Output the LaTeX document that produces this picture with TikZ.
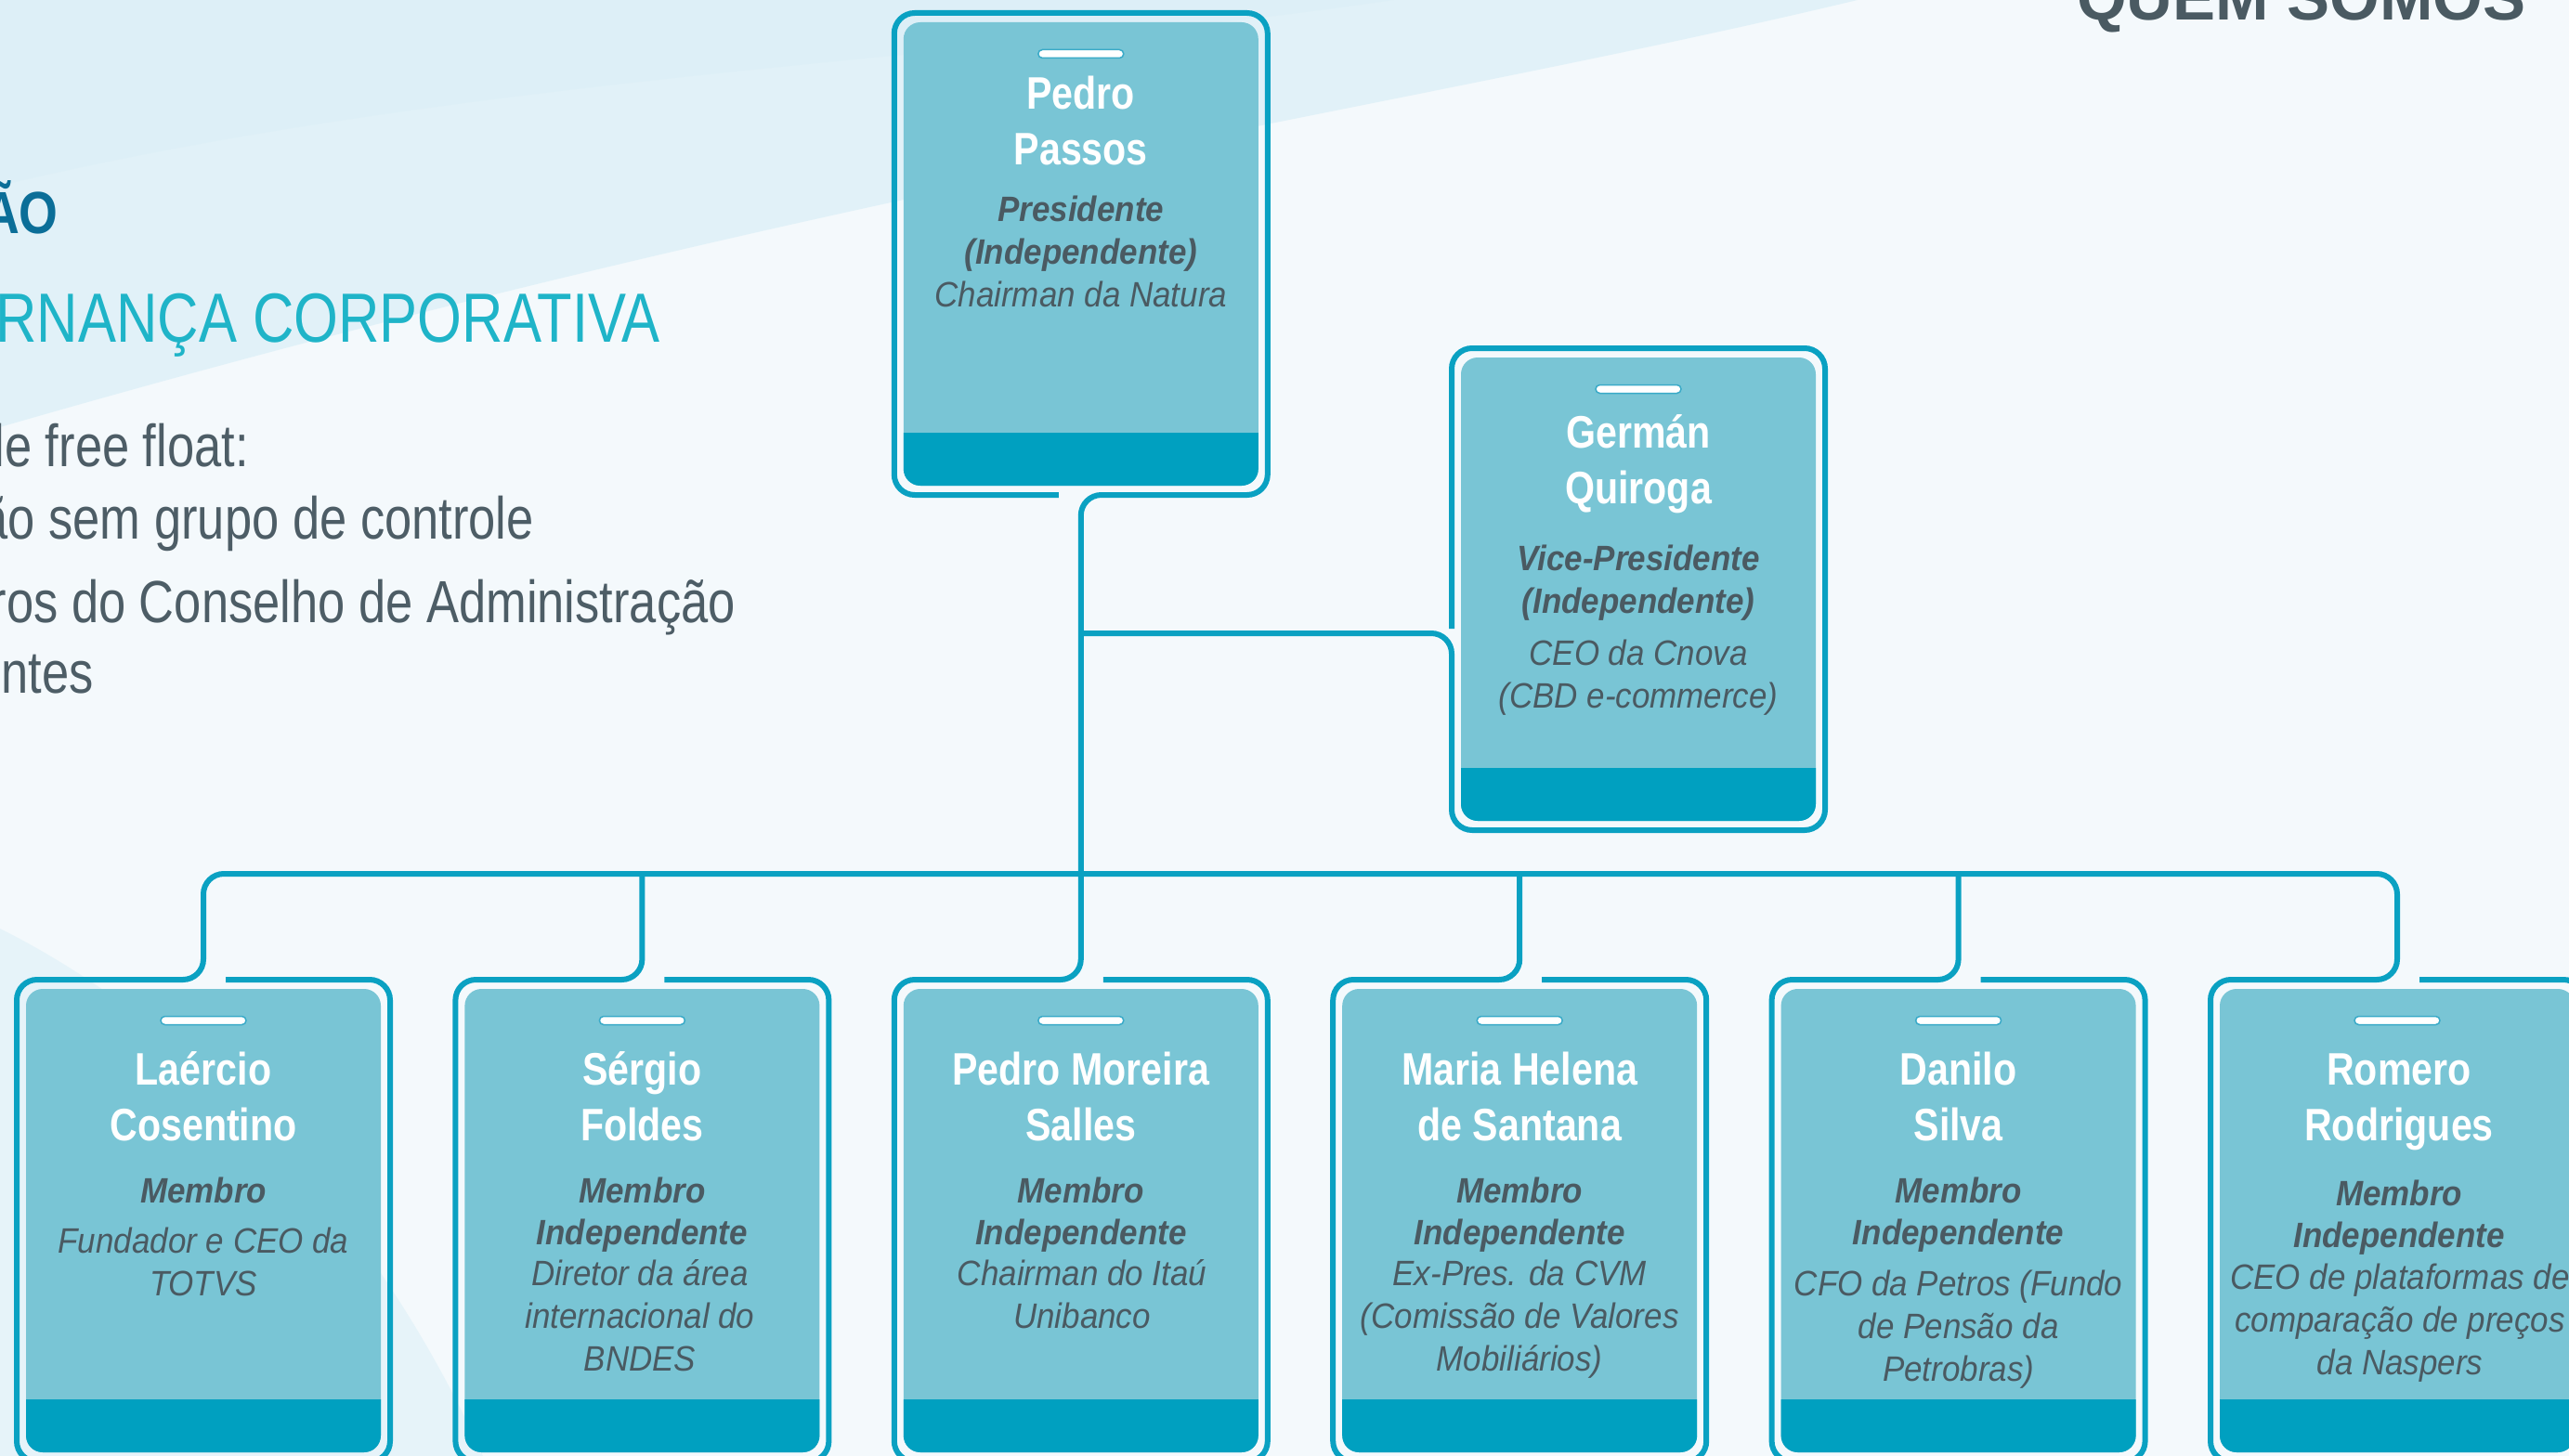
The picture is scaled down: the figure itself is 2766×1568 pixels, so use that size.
\documentclass[tikz,border=0pt]{standalone}
\usepackage{fontspec}
\setmainfont{Liberation Sans}
\newfontfamily\narrowfont[FakeStretch=0.82]{Liberation Sans}
\newfontfamily\condfont[FakeStretch=0.84]{Liberation Sans}
\newfontfamily\semifont[FakeStretch=0.92]{Liberation Sans}
\usetikzlibrary{calc}
\definecolor{cardline}{HTML}{0AA1C2}
\definecolor{cardfill}{HTML}{79C5D5}
\definecolor{cardband}{HTML}{00A0C0}
\definecolor{txtgray}{HTML}{4A5A62}
\definecolor{bodygray}{HTML}{4D5D66}
\definecolor{titleblue}{HTML}{0B6E98}
\definecolor{subteal}{HTML}{1FB4C8}
\definecolor{bgbase}{HTML}{F4F9FC}
\definecolor{bglight}{HTML}{DAEFF7}
\definecolor{barline}{HTML}{3AAAC8}

\newcommand\cardbody[1]{%
  \begin{scope}
    \clip[rounded corners=18pt] ($(#1.north west)+(10pt,-10pt)$) rectangle ($(#1.south east)+(-10pt,10pt)$);
    \fill[cardfill] (#1.north west) rectangle (#1.south east);
    \fill[cardband] ($(#1.north west)+(0pt,-452pt)$) rectangle (#1.south east);
  \end{scope}
  \draw[barline, line width=1.5pt, fill=white, rounded corners=4.5pt]
    ($(#1.north)+(-46pt,-39.5pt)$) rectangle ($(#1.north)+(46pt,-48.5pt)$);
}
\newcommand\tl[5]{\node[#1] (#2) at (#3,#4) {#5};}

\begin{document}
\begin{tikzpicture}[x=1pt,y=-1pt,
  cardbox/.style={minimum width=402pt,minimum height=519pt,inner sep=0pt,outer sep=0pt,draw=none},
  border/.style={draw=cardline,line width=6pt,rounded corners=22pt},
  nm/.style={font=\condfont\fontsize{49}{49}\selectfont\bfseries,text=white,anchor=base,inner sep=0pt},
  rl/.style={font=\semifont\fontsize{38}{38}\selectfont\bfseries\itshape,text=txtgray,anchor=base,inner sep=0pt},
  ds/.style={font=\semifont\fontsize{38}{38}\selectfont\itshape,text=txtgray,anchor=base,inner sep=0pt},
  body/.style={font=\narrowfont\fontsize{64}{64}\selectfont,text=bodygray,anchor=base east,inner sep=0pt},
]
\useasboundingbox (0,0) rectangle (2766,1568);
\clip (0,0) rectangle (2766,1568);

% background
\fill[bgbase] (0,0) rectangle (2766,1568);
\fill[bglight, opacity=0.7] (0,0) -- (2000,0) .. controls (1500,120) and (900,200) .. (0,460) -- cycle;
\fill[bglight, opacity=0.5] (0,0) -- (1500,0) .. controls (1100,60) and (500,80) .. (0,200) -- cycle;
\fill[bglight, opacity=0.5] (0,1000) .. controls (200,1100) and (400,1300) .. (520,1568) -- (0,1568) -- cycle;

% left text
\node[font=\condfont\fontsize{64}{64}\selectfont\bfseries,text=titleblue,anchor=base east,inner sep=0pt] (ttl) at (63,251) {ÃO};
\node[font=\narrowfont\fontsize{75}{75}\selectfont,text=subteal,anchor=base east,inner sep=0pt] (sub) at (711,368) {RNANÇA CORPORATIVA};
\node[body] (b1) at (268,502) {le free float:};
\node[body] (b2) at (575,580) {ão sem grupo de controle};
\node[body] (b3) at (792,670) {ros do Conselho de Administração};
\node[body] (b4) at (101,746) {ntes};
\node[font=\fontsize{69}{69}\selectfont\bfseries,text=txtgray,anchor=base west,inner sep=0pt] (qs) at (2236,22) {QUEM SOMOS};

% cards
\node[cardbox] (p) at (1163.8,273.5) {};
\node[cardbox] (g) at (1764,634.5) {};
\node[cardbox] (c1) at (219,1314.5) {};
\node[cardbox] (c2) at (691.4,1314.5) {};
\node[cardbox] (c3) at (1163.8,1314.5) {};
\node[cardbox] (c4) at (1636.2,1314.5) {};
\node[cardbox] (c5) at (2108.6,1314.5) {};
\node[cardbox] (c6) at (2581,1314.5) {};
\coordinate (bus) at (0,941);
\coordinate (gj) at ($(g.north west)+(0pt,-307pt)$);

\foreach \c in {p,g,c1,c2,c3,c4,c5,c6} {\cardbody{\c}}

% borders and connectors
\draw[border] ([xshift=-24pt]p.south) -- (p.south west) -- (p.north west) -- (p.north east) -- (p.south east) -- (p.south) -- (c3.north) -- (c3.north west) -- (c3.south west) -- (c3.south east) -- (c3.north east) -- ([xshift=24pt]c3.north);
\draw[border] (p.south |- gj) -- (gj) -- (g.south west) -- (g.south east) -- (g.north east) -- (g.north west) -- ([yshift=5pt]gj);
\draw[border] ([xshift=24pt]c1.north) -- (c1.north east) -- (c1.south east) -- (c1.south west) -- (c1.north west) -- (c1.north) -- (c1.north |- bus) -- (c6.north |- bus) -- (c6.north) -- (c6.north west) -- (c6.south west) -- (c6.south east) -- (c6.north east) -- ([xshift=24pt]c6.north);
\foreach \c in {c2,c4,c5} {
  \draw[border] ([xshift=24pt]\c.north) -- (\c.north east) -- (\c.south east) -- (\c.south west) -- (\c.north west) -- (\c.north) -- (\c.north |- bus);
}

% texts: top card
\tl{nm}{pn1}{1163.8}{118}{Pedro}
\tl{nm}{pn2}{1163.8}{178}{Passos}
\tl{rl}{pr1}{1163.8}{238}{Presidente}
\tl{rl}{pr2}{1163.8}{284}{(Independente)}
\tl{ds}{pd1}{1163.8}{330}{Chairman da Natura}
% German
\tl{nm}{gn1}{1764}{482}{Germán}
\tl{nm}{gn2}{1764}{542}{Quiroga}
\tl{rl}{gr1}{1764}{614}{Vice-Presidente}
\tl{rl}{gr2}{1764}{660}{(Independente)}
\tl{ds}{gd1}{1764}{716}{CEO da Cnova}
\tl{ds}{gd2}{1764}{762}{(CBD e-commerce)}
% c1
\tl{nm}{an1}{219}{1168}{Laércio}
\tl{nm}{an2}{219}{1228}{Cosentino}
\tl{rl}{ar1}{219}{1295}{Membro}
\tl{ds}{ad1}{219}{1349}{Fundador e CEO da}
\tl{ds}{ad2}{219}{1395}{TOTVS}
% c2
\tl{nm}{bn1}{691.4}{1168}{Sérgio}
\tl{nm}{bn2}{691.4}{1228}{Foldes}
\tl{rl}{br1}{691.4}{1295}{Membro}
\tl{rl}{br2}{691.4}{1340}{Independente}
\tl{ds}{bd1}{689}{1384}{Diretor da área}
\tl{ds}{bd2}{689}{1430}{internacional do}
\tl{ds}{bd3}{689}{1476}{BNDES}
% c3
\tl{nm}{cn1}{1163.8}{1168}{Pedro Moreira}
\tl{nm}{cn2}{1163.8}{1228}{Salles}
\tl{rl}{cr1}{1163.8}{1295}{Membro}
\tl{rl}{cr2}{1163.8}{1340}{Independente}
\tl{ds}{cd1}{1165}{1384}{Chairman do Itaú}
\tl{ds}{cd2}{1165}{1430}{Unibanco}
% c4
\tl{nm}{dn1}{1636.2}{1168}{Maria Helena}
\tl{nm}{dn2}{1636.2}{1228}{de Santana}
\tl{rl}{dr1}{1636.2}{1295}{Membro}
\tl{rl}{dr2}{1636.2}{1340}{Independente}
\tl{ds}{dd1}{1636.2}{1384}{Ex-Pres. da CVM}
\tl{ds}{dd2}{1636.2}{1430}{(Comissão de Valores}
\tl{ds}{dd3}{1636.2}{1476}{Mobiliários)}
% c5
\tl{nm}{en1}{2108.6}{1168}{Danilo}
\tl{nm}{en2}{2108.6}{1228}{Silva}
\tl{rl}{er1}{2108.6}{1295}{Membro}
\tl{rl}{er2}{2108.6}{1340}{Independente}
\tl{ds}{ed1}{2108.6}{1395}{CFO da Petros (Fundo}
\tl{ds}{ed2}{2108.6}{1441}{de Pensão da}
\tl{ds}{ed3}{2108.6}{1487}{Petrobras)}
% c6
\tl{nm}{fn1}{2583}{1168}{Romero}
\tl{nm}{fn2}{2583}{1228}{Rodrigues}
\tl{rl}{fr1}{2583}{1298}{Membro}
\tl{rl}{fr2}{2583}{1343}{Independente}
\tl{ds}{fd1}{2584}{1388}{CEO de plataformas de}
\tl{ds}{fd2}{2584}{1434}{comparação de preços}
\tl{ds}{fd3}{2584}{1480}{da Naspers}
\end{tikzpicture}
\end{document}
